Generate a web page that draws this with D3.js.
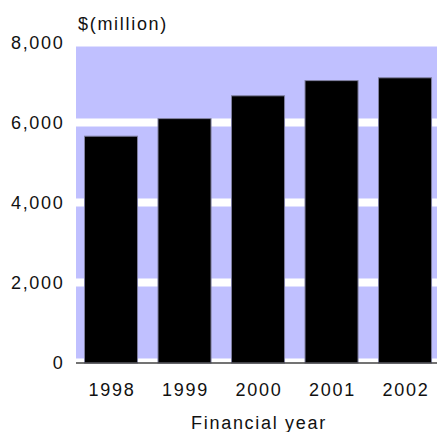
<!DOCTYPE html>
<html>
<head>
<meta charset="utf-8">
<script src="https://cdn.jsdelivr.net/npm/d3@7"></script>
<style>
  html, body { margin: 0; padding: 0; background: #ffffff; }
  svg { display: block; }
  text { font-family: "Liberation Sans", Arial, sans-serif; fill: #111; letter-spacing: 1.7px; }
</style>
</head>
<body>
<svg id="chart" width="437" height="432"></svg>
<script>
const categories = ["1998", "1999", "2000", "2001", "2002"];
const values = [5670, 6110, 6680, 7060, 7130];
const yTicks = [0, 2000, 4000, 6000, 8000];
const yUnitLabel = "$(million)";
const xAxisTitle = "Financial year";

const svg = d3.select("#chart");
const W = 437, H = 432;
const plotLeft = 76, plotRight = 437;

const y = d3.scaleLinear().domain([0, 8000]).range([362.5, 42.5]);
const x = d3.scaleBand().domain(categories).range([76.65, 439.4])
  .paddingInner(0.265).paddingOuter(0.1);

// background
svg.append("rect")
  .attr("x", plotLeft).attr("y", y(8000))
  .attr("width", plotRight - plotLeft).attr("height", y(0) - y(8000))
  .attr("fill", "#c0c0ff");

// white gridlines
svg.append("g").selectAll("line").data(yTicks).join("line")
  .attr("x1", plotLeft).attr("x2", plotRight)
  .attr("y1", d => y(d)).attr("y2", d => y(d))
  .attr("stroke", "#ffffff").attr("stroke-width", 8);

// bars
svg.append("g").selectAll("rect").data(values).join("rect")
  .attr("x", (d, i) => x(categories[i]) + 0.5)
  .attr("y", d => y(d) + 0.5)
  .attr("width", x.bandwidth() - 1)
  .attr("height", d => y(0) - y(d))
  .attr("fill", "#000000")
  .attr("stroke", "#7f7f9f").attr("stroke-width", 1);

// baseline
svg.append("line")
  .attr("x1", plotLeft).attr("x2", plotRight)
  .attr("y1", y(0) + 0.5).attr("y2", y(0) + 0.5)
  .attr("stroke", "#444").attr("stroke-width", 1.5);

// y tick labels
svg.append("g").selectAll("text").data(yTicks).join("text")
  .attr("x", 64.5).attr("y", d => y(d))
  .attr("dy", "0.36em")
  .attr("text-anchor", "end")
  .attr("font-size", 18)
  .text(d => d3.format(",")(d));

// unit label
svg.append("text")
  .attr("x", 78).attr("y", 30)
  .attr("font-size", 18)
  .text(yUnitLabel);

// x tick labels
svg.append("g").selectAll("text").data(categories).join("text")
  .attr("x", d => x(d) + x.bandwidth() / 2 + 1)
  .attr("y", 396)
  .attr("text-anchor", "middle")
  .attr("font-size", 18)
  .text(d => d);

// x axis title
svg.append("text")
  .attr("x", 259).attr("y", 429)
  .attr("text-anchor", "middle")
  .attr("font-size", 18)
  .text(xAxisTitle);
</script>
</body>
</html>
